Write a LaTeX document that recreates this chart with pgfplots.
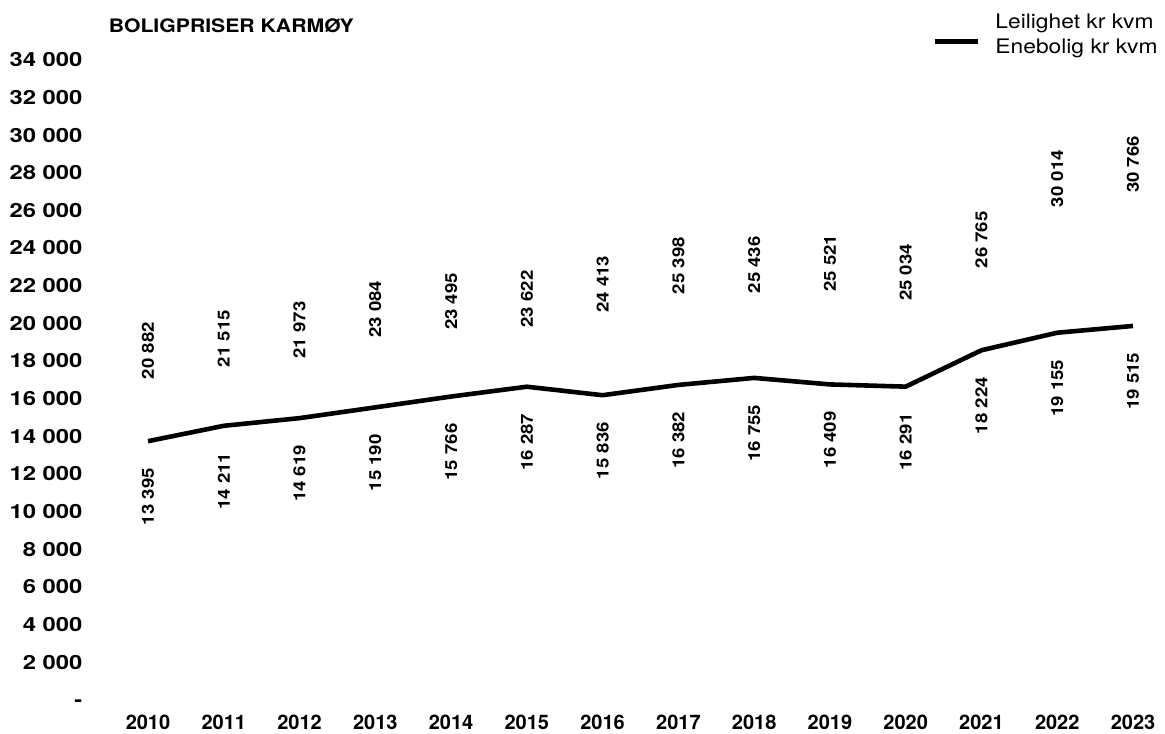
\documentclass[border=0pt]{standalone}
\usepackage{fontspec}
\setmainfont{TeX Gyre Heros}
\newfontfamily\ytfont[FakeStretch=1.22]{TeX Gyre Heros}
\newfontfamily\widefont[FakeStretch=1.14]{TeX Gyre Heros}
\newfontfamily\lblfont[FakeStretch=1.12]{TeX Gyre Heros}
\usepackage{pgfplots}
\usepackage{pgfplotstable}
\pgfplotsset{compat=1.18}

% boligpriser Karmøy, kr per kvm
\pgfplotstableread{
year lei ene
2010 20882 13395
2011 21515 14211
2012 21973 14619
2013 23084 15190
2014 23495 15766
2015 23622 16287
2016 24413 15836
2017 25398 16382
2018 25436 16755
2019 25521 16409
2020 25034 16291
2021 26765 18224
2022 30014 19155
2023 30766 19515
}\prisdata

\begin{document}
\begin{tikzpicture}
\begin{axis}[
  scale only axis, width=492.5pt, height=320.1pt,
  xmin=2010, xmax=2023, ymin=0, ymax=34000,
  scaled y ticks=false, scaled x ticks=false,
  axis line style={draw=none}, major tick length=0pt,
  xtick={2010,2011,...,2023},
  xticklabels={2010,2011,2012,2013,2014,2015,2016,2017,2018,2019,2020,2021,2022,2023},
  ytick={0,2000,...,34000},
  yticklabels={-,2 000,4 000,6 000,8 000,10 000,12 000,14 000,16 000,18 000,20 000,22 000,24 000,26 000,28 000,30 000,32 000,34 000},
  yticklabel style={anchor=east, inner sep=0pt, xshift=-32.6pt, yshift=-3.25pt,
    text height=7pt, text depth=0pt, font=\ytfont\bfseries\fontsize{9.75}{10}\selectfont},
  xticklabel style={anchor=north, inner sep=0pt, yshift=-10.8pt,
    text height=7.2pt, text depth=0pt, font=\bfseries\fontsize{10}{11}\selectfont},
  /pgf/number format/.cd, fixed, precision=0, 1000 sep={\ }, assume math mode=true,
  /pgfplots/.cd,
  every node near coord/.append style={rotate=90, anchor=east, inner sep=0pt,
    font=\lblfont\bfseries\fontsize{8.3}{9}\selectfont, text=black},
  legend style={draw=none, fill=none, inner sep=0pt, row sep=3.3pt, column sep=7.5pt,
    at={(rel axis cs:1.0254,1.0623)}, anchor=north east,
    nodes={inner sep=0pt, text height=7.2pt, text depth=2pt},
    font=\widefont\fontsize{10}{11}\selectfont},
  legend cell align=left,
  legend image code/.code={\draw[#1] (0pt,3.2pt) -- (21.7pt,3.2pt);},
  clip=false,
]
% Leilighet: no visible line, only the labels
\addplot[draw=none, point meta=y, nodes near coords,
  legend image code/.code={\path (0pt,3.2pt) -- (21.7pt,3.2pt);},
  every node near coord/.append style={outer xsep=11pt}]
  table[x=year, y=lei] {\prisdata};
\addlegendentry{Leilighet kr kvm}
\addplot[black, line width=2.3pt, line join=round, point meta=y, nodes near coords,
  every node near coord/.append style={outer xsep=13.5pt}]
  table[x=year, y=ene] {\prisdata};
\addlegendentry{Enebolig kr kvm}
\node[anchor=north west, inner sep=0pt, text height=6.65pt, text depth=0pt,
  font=\widefont\bfseries\fontsize{9.3}{10}\selectfont]
  at (rel axis cs:-0.0401,1.053) {BOLIGPRISER KARMØY};
\coordinate (bbSW) at (rel axis cs:-0.15025,-0.06186);
\coordinate (bbNE) at (rel axis cs:1.03249,1.0831);
\end{axis}
\pgfresetboundingbox
\path (bbSW) rectangle (bbNE);
\end{tikzpicture}
\end{document}
